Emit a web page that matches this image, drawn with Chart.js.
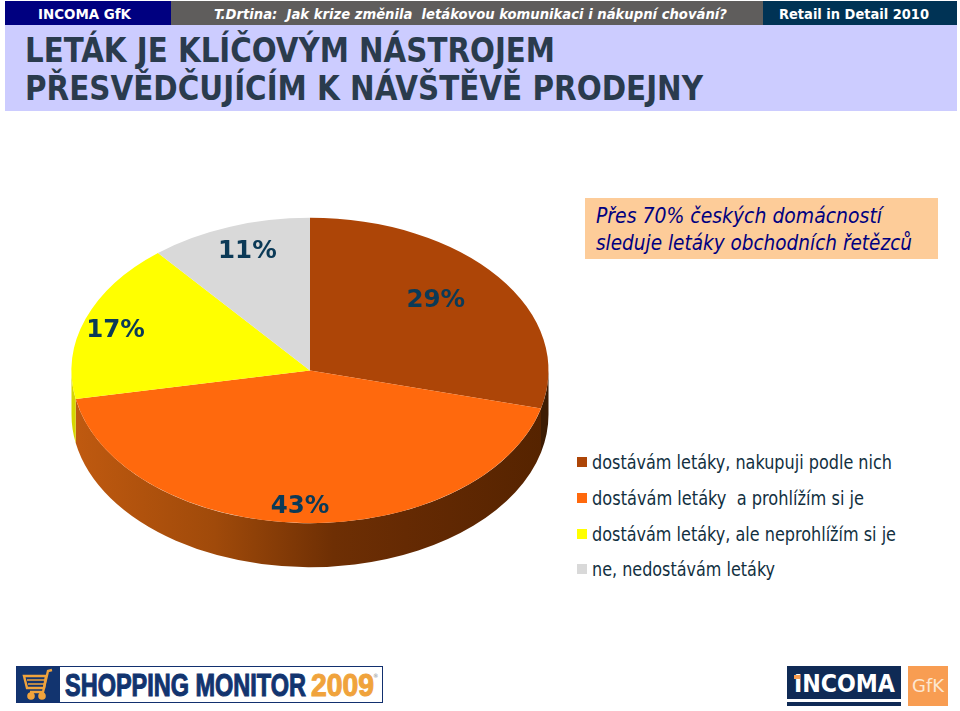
<!DOCTYPE html>
<html lang="cs">
<head>
<meta charset="utf-8">
<title>Leták je klíčovým nástrojem</title>
<script src="https://cdn.jsdelivr.net/npm/chart.js@4"></script>
<style>
  html, body { margin: 0; background: #fff; }
  #page { position: relative; width: 960px; height: 711px; overflow: hidden; font-family: "DejaVu Sans", sans-serif; font-stretch: condensed; }
  #page div, #page span { position: absolute; }
  .t { white-space: pre; transform-origin: 0 50%; line-height: 1; }
  canvas { position: absolute; left: 0; top: 0; }
</style>
</head>
<body>
<div id="page">
  <div style="left:5px;top:1px;width:166px;height:24px;background:#000080"></div>
  <div style="left:171px;top:1px;width:592px;height:24px;background:#5f5d5c"></div>
  <div style="left:763px;top:1px;width:194px;height:24px;background:#003355"></div>
  <div style="left:5px;top:25px;width:952px;height:86px;background:#ccccff"></div>

  <span class="t" data-w="93" style="left:38px;top:7px;font-size:14px;font-weight:bold;color:#fff">INCOMA GfK</span>
  <span class="t" data-w="513" style="left:214px;top:7px;font-size:14px;font-weight:bold;font-style:italic;color:#fff">T.Drtina:  Jak krize změnila  letákovou komunikaci i nákupní chování?</span>
  <span class="t" data-w="150" style="left:779px;top:7px;font-size:14px;font-weight:bold;color:#fff">Retail in Detail 2010</span>

  <span class="t" data-w="530" style="left:25px;top:34px;font-size:33px;font-weight:bold;color:#2a3b4d">LETÁK JE KLÍČOVÝM NÁSTROJEM</span>
  <span class="t" data-w="678" style="left:25px;top:72px;font-size:33px;font-weight:bold;color:#2a3b4d">PŘESVĚDČUJÍCÍM K NÁVŠTĚVĚ PRODEJNY</span>

  <div style="left:585px;top:198px;width:353px;height:61px;background:#fdcc99"></div>
  <span class="t" data-w="286" style="left:596px;top:206px;font-size:21px;font-style:italic;color:#000080">Přes 70% českých domácností</span>
  <span class="t" data-w="316" style="left:596px;top:233px;font-size:21px;font-style:italic;color:#000080">sleduje letáky obchodních řetězců</span>

  <div id="legend" style="left:0;top:0"></div>

  <!-- loga dole -->
  <div style="left:16px;top:666px;width:365px;height:35px;border:1px solid #12306f;background:#fff"></div>
  <div style="left:17px;top:667px;width:43px;height:35px;background:#12346f"></div>
  <svg style="position:absolute;left:22px;top:668px" width="34" height="33" viewBox="0 0 34 33" fill="none" stroke="#f0a33c" stroke-width="2.4">
    <path d="M30 2 L26 3 L21 24 H8"/>
    <path d="M2 8 H24 L22 20 H5 Z" />
    <path d="M5 12 H23 M6 16 H22" stroke-width="1.6"/>
    <circle cx="9" cy="28" r="2.6" fill="#f0a33c"/><circle cx="20" cy="28" r="2.6" fill="#f0a33c"/>
  </svg>
  <span class="t" data-w="241" style="left:65px;top:669px;font-family:'Liberation Sans Narrow','Liberation Sans';font-size:32px;font-weight:bold;color:#12346f;-webkit-text-stroke:1.1px #12346f">SHOPPING MONITOR</span>
  <span class="t" data-w="63" style="left:311px;top:669px;font-family:'Liberation Sans Narrow','Liberation Sans';font-size:32px;font-weight:bold;color:#f0a33c;-webkit-text-stroke:1.1px #f0a33c">2009</span>
  <span class="t" style="left:373px;top:673px;font-size:6px;color:#888">®</span>

  <div style="left:787px;top:666px;width:114px;height:33px;background:#0f2a55"></div>
  <div style="left:787px;top:702px;width:114px;height:4px;background:#0f2a55"></div>
  <span class="t" data-w="101" style="left:794px;top:672px;font-size:24px;font-weight:bold;color:#fff">INCOMA</span>
  <div style="left:794px;top:675px;width:6px;height:4px;background:#f89d52"></div>
  <div style="left:908px;top:666px;width:40px;height:40px;background:#f89d52"></div>
  <span class="t" data-w="32" style="left:912px;top:678px;font-size:17px;color:#fde6d0">GfK</span>

  <canvas id="pie" width="960" height="711" style="width:960px;height:711px"></canvas>
</div>
<script>
const categories = [
  'dostávám letáky, nakupuji podle nich',
  'dostávám letáky  a prohlížím si je',
  'dostávám letáky, ale neprohlížím si je',
  'ne, nedostávám letáky'
];
const shares = [29, 43, 17, 11];
const sliceColors = ['#ad4507', '#ff690d', '#ffff00', '#d9d9d9'];

// tilt of the 3D pie
const tilt = 0.64;
const depth = 44;
const labelNudge = [[-25, 5], [-4, 14], [-15, 2], [2, -4]];

// legend, built from the same lists
const legendBox = document.getElementById('legend');
const legendWidths = [300, 272, 304, 183];
categories.forEach((name, i) => {
  const top = 457 + i * 35.8;
  legendBox.insertAdjacentHTML('beforeend',
    `<div style="left:577px;top:${top}px;width:10px;height:10px;background:${sliceColors[i]}"></div>` +
    `<span class="t" data-w="${legendWidths[i]}" style="left:592px;top:${top - 4}px;font-size:19px;color:#12303f">${name}</span>`);
});

// squeeze the texts to the widths they have in the slide
document.querySelectorAll('.t[data-w]').forEach(el => {
  el.style.transform = `scaleX(${el.dataset.w / el.getBoundingClientRect().width})`;
});

function sideColor(ctx, i, arc) {
  if (i === 0) return '#3d1c03';
  if (i === 2) return '#d6d600';
  const g = ctx.createLinearGradient(arc.x - arc.outerRadius, 0, arc.x + arc.outerRadius, 0);
  g.addColorStop(0, '#c05a10');
  g.addColorStop(0.3, '#a04a0a');
  g.addColorStop(0.55, '#6e2f04');
  g.addColorStop(0.7, '#652a03');
  g.addColorStop(1, '#552300');
  return g;
}

const pie3d = {
  id: 'pie3d',
  beforeDatasetsDraw(chart) {
    const ctx = chart.ctx;
    const arcs = chart.getDatasetMeta(0).data;
    // side wall, only the part of each slice that faces the viewer
    arcs.forEach((arc, i) => {
      const a0 = Math.max(arc.startAngle, 0);
      const a1 = Math.min(arc.endAngle, Math.PI);
      if (a1 <= a0) return;
      const ry = arc.outerRadius * tilt;
      ctx.beginPath();
      ctx.ellipse(arc.x, arc.y, arc.outerRadius, ry, 0, a0, a1);
      ctx.ellipse(arc.x, arc.y + depth, arc.outerRadius, ry, 0, a1, a0, true);
      ctx.closePath();
      ctx.fillStyle = sideColor(ctx, i, arc);
      ctx.fill();
    });
    const cy = arcs[0].y;
    ctx.save();
    ctx.translate(0, cy);
    ctx.scale(1, tilt);
    ctx.translate(0, -cy);
  },
  afterDatasetsDraw(chart) {
    const ctx = chart.ctx;
    ctx.restore();
    ctx.font = 'bold 24.5px "DejaVu Sans"';
    ctx.fillStyle = '#0b3a57';
    ctx.textAlign = 'center';
    ctx.textBaseline = 'middle';
    chart.getDatasetMeta(0).data.forEach((arc, i) => {
      const mid = (arc.startAngle + arc.endAngle) / 2;
      const x = arc.x + Math.cos(mid) * arc.outerRadius * 0.8 + labelNudge[i][0];
      const y = arc.y + Math.sin(mid) * arc.outerRadius * tilt * 0.8 + labelNudge[i][1];
      ctx.fillText(shares[i] + '%', x, y);
    });
  }
};

new Chart(document.getElementById('pie'), {
  type: 'pie',
  data: {
    labels: categories,
    datasets: [{
      data: shares,
      backgroundColor: sliceColors,
      borderWidth: 0
    }]
  },
  options: {
    responsive: false,
    animation: false,
    devicePixelRatio: 1,
    layout: { padding: { left: 71.5, right: 411.5, top: 132, bottom: 102 } },
    plugins: { legend: { display: false }, tooltip: { enabled: false } }
  },
  plugins: [pie3d]
});
</script>
</body>
</html>
